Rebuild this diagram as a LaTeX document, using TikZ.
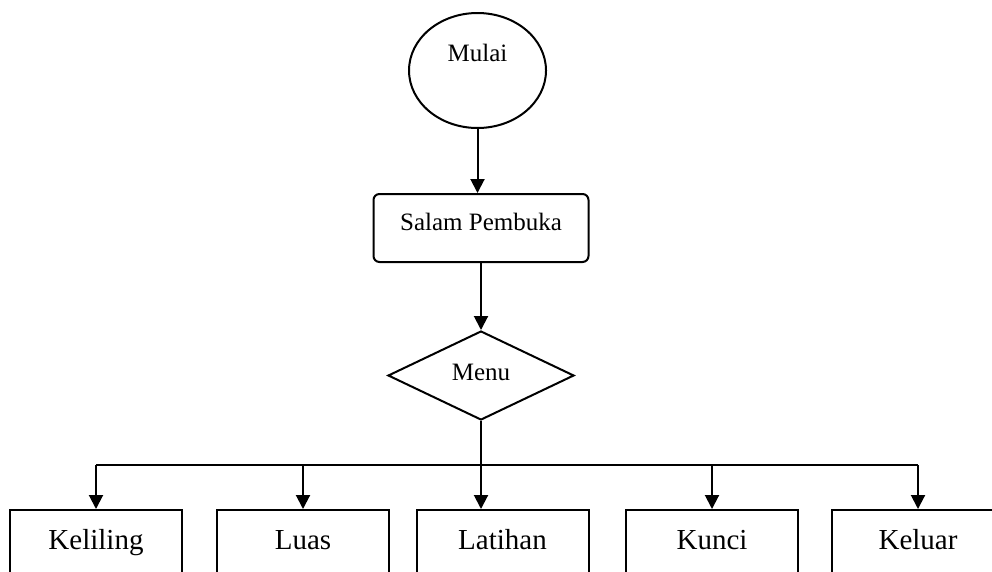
\documentclass[tikz,border=0pt]{standalone}
\usepackage{fontspec}
\setmainfont{Liberation Serif}
\usepackage{tikz}
\usetikzlibrary{shapes.geometric,arrows.meta}

\tikzset{
    flowline/.style={line width=2pt, -{Triangle[length=14pt,width=14pt]}},
    menubox/.style={draw, line width=2pt, minimum width=172pt, minimum height=70pt, inner sep=0pt,
        font=\fontsize{29}{34}\selectfont, text height=20pt, text depth=12pt}
}

\begin{document}
\begin{tikzpicture}[x=1pt, y=-1pt]
        \useasboundingbox (0,0) rectangle (992,571);
        \clip (0,0) rectangle (992,571);

        \node[draw, ellipse, line width=2pt, minimum width=137pt, minimum height=115pt, inner sep=0pt,
            font=\fontsize{25}{30}\selectfont, text height=17pt, text depth=36pt] (mulai) at (477.5,70.5) {Mulai};
        \node[draw, rounded corners=6pt, line width=2pt, minimum width=215pt, minimum height=68pt, inner sep=0pt,
            font=\fontsize{25}{30}\selectfont, text height=17pt, text depth=13pt] (salam) at (481,228) {Salam Pembuka};
        \node[draw, diamond, aspect=2.09, line width=2pt, minimum width=186pt, minimum height=89pt, inner sep=0pt,
            font=\fontsize{25}{30}\selectfont, text height=17pt, text depth=8pt] (menu) at (481,375.5) {Menu};

        \foreach \name/\x/\teks in {kel/96/Keliling, luas/303/Luas, lat/502.5/Latihan, kun/712/Kunci, klr/918/Keluar}
            \node[menubox] (\name) at (\x,545) {\teks};

        \coordinate (bar) at (481,465);

        \draw[flowline] (mulai.south) -- (mulai.south |- salam.north);
        \draw[flowline] (salam.south) -- (menu.north);
        \draw[flowline] (menu.south) -- (menu.south |- lat.north);
        \draw[line width=2pt] (bar -| kel.north) -- (bar -| klr.north);
        \foreach \name in {kel,luas,kun,klr}
            \draw[flowline] (bar -| \name.north) -- (\name.north);
    \end{tikzpicture}
\end{document}
